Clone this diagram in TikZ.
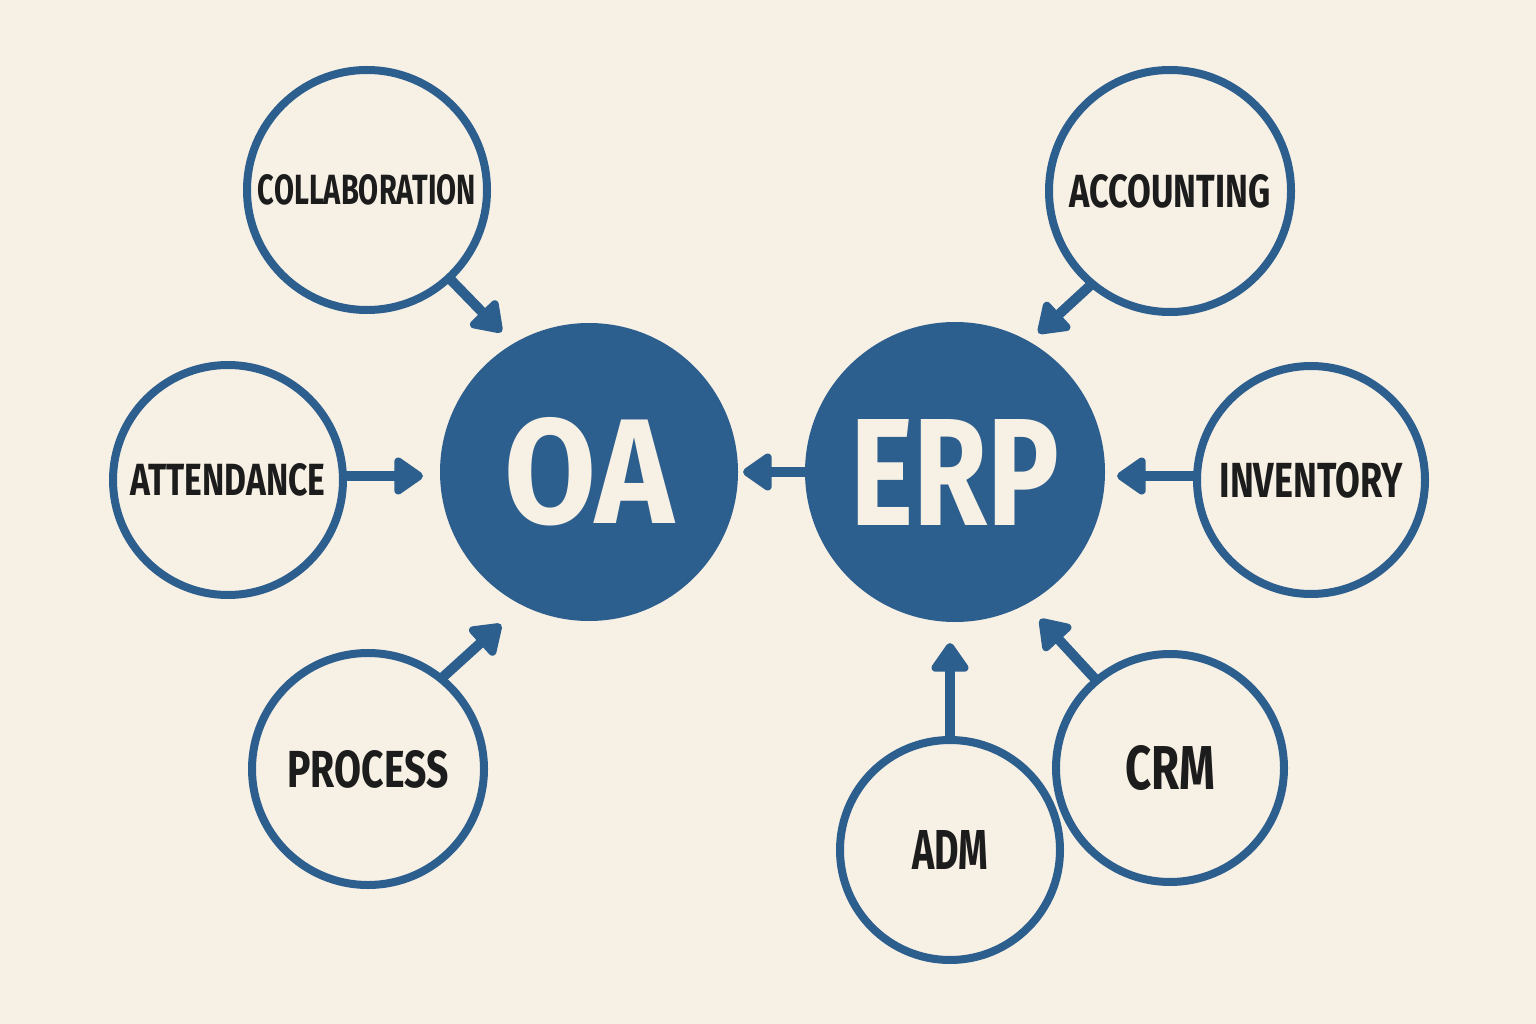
\documentclass[tikz,border=0pt]{standalone}
\usepackage{fontspec}
\setmainfont{Fira Sans}
\usetikzlibrary{arrows.meta,calc}
\definecolor{bgcream}{HTML}{F7F0E4}
\definecolor{ublue}{HTML}{2C5F8E}
\definecolor{ink}{HTML}{1C1C1C}
\newcommand\mylbl[3]{\resizebox{#1pt}{#2pt}{\bfseries #3}}
\begin{document}
\begin{tikzpicture}[x=1pt,y=-1pt,
  ring/.style={circle,draw=ublue,line width=8pt,inner sep=0pt,outer sep=0pt,text=ink},
  hub/.style={circle,fill=ublue,inner sep=0pt,outer sep=0pt,text=bgcream},
  arr/.style={draw=ublue,line width=10pt,line join=round,-{Triangle[round,length=32pt,width=42pt]}}]
\fill[bgcream] (0,0) rectangle (1536,1024);
\useasboundingbox (0,0) rectangle (1536,1024);
% satellites
\node[ring,minimum size=240pt] (collab) at (367,190) {\mylbl{218}{30}{COLLABORATION}};
\node[ring,minimum size=242pt] (acct) at (1170,191) {\mylbl{201}{33}{ACCOUNTING}};
\node[ring,minimum size=230pt] (att) at (228,480) {\mylbl{195}{32}{ATTENDANCE}};
\node[ring,minimum size=228pt] (inv) at (1311,480) {\mylbl{183}{35}{INVENTORY}};
\node[ring,minimum size=232pt] (proc) at (368,769) {\mylbl{161}{37}{PROCESS}};
\node[ring,minimum size=228pt] (crm) at (1170,768) {\mylbl{90}{44}{CRM}};
\node[ring,minimum size=220pt] (adm) at (950,850) {\mylbl{76}{39}{ADM}};
% hubs
\node[hub,minimum size=298pt] (oa) at (589,472) {\mylbl{169}{106}{OA}};
\node[hub,minimum size=300pt] (erp) at (955,472) {\mylbl{209}{106}{ERP}};
% connectors
\draw[arr] (collab.-47.3) -- ($(oa.center)!165pt!(oa.122.9)$);
\draw[arr] (acct.-130.3) -- ($(erp.center)!162pt!(erp.59.2)$);
\draw[arr] (att.2) -- ([xshift=-17pt]att.2 -| oa.west);
\draw[arr] (inv.178) -- ([xshift=12pt]inv.178 -| erp.east);
\draw[arr] (erp.west) -- ([xshift=5pt]erp.west -| oa.east);
\draw[arr] (proc.51.1) -- ($(oa.center)!176pt!(oa.-120.8)$);
\draw[arr] (adm.north) -- ($(adm.north |- erp.south)+(0pt,-21pt)$);
\draw[arr] (crm.130.9) -- ($(erp.center)!170pt!(erp.-60.7)$);
\end{tikzpicture}
\end{document}
